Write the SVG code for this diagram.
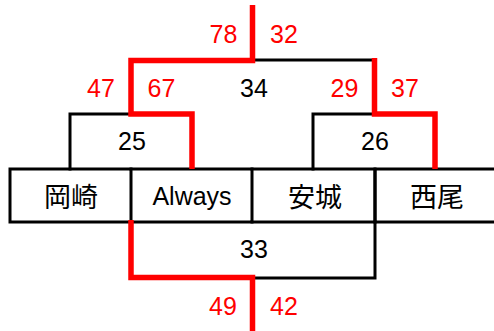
<svg xmlns="http://www.w3.org/2000/svg" width="494" height="331" viewBox="0 0 494 331">
<style>
.b{fill:none;stroke:#000;stroke-width:3;stroke-linecap:square}
.r{fill:none;stroke:#f00;stroke-width:5.5;stroke-linejoin:miter;stroke-linecap:butt}
text{font-family:"Liberation Sans","Noto Sans CJK JP",sans-serif;font-size:25px;text-anchor:middle}
.k{fill:#000}
.n{fill:#f00}
.j{font-family:"Noto Sans CJK JP",sans-serif;font-size:27px}
</style>
<rect width="494" height="331" fill="#fff"/>
<g id="box34"><path class="b" d="M252,60 H374"/><text class="k" x="254" y="97">34</text></g>
<g id="box25"><path class="b" d="M70,169 V114 H131"/><text class="k" x="132" y="150">25</text></g>
<g id="box26"><path class="b" d="M313,169 V114 H374"/><text class="k" x="375" y="150">26</text></g>
<g id="box33"><path class="b" d="M252,278 H375 V222"/><text class="k" x="254" y="258">33</text></g>
<g id="okazaki"><path class="b" d="M10,169 H131 V222 H10 Z"/><text class="k j" x="71" y="207">岡崎</text></g>
<g id="always"><path class="b" d="M131,169 H252 V222 H131"/><text class="k" x="192" y="205">Always</text></g>
<g id="anjo"><path class="b" d="M252,169 H375 V222 H252"/><text class="k j" x="315" y="207">安城</text></g>
<g id="nishio"><path class="b" d="M375,169 H500 M375,222 H500 M375,169 V222"/><text class="k j" x="437" y="207">西尾</text></g>
<g id="connectors">
<path class="r" d="M252.5,5 V60.5 H131 V114 H192 V169"/>
<path class="r" d="M374.5,58 V114 H435 V169"/>
<path class="r" d="M131,220 V277.5 H252.5 V331"/>
</g>
<g id="labels">
<text class="n" x="223.5" y="43">78</text>
<text class="n" x="284" y="43">32</text>
<text class="n" x="101" y="97">47</text>
<text class="n" x="161.5" y="97">67</text>
<text class="n" x="344.5" y="97">29</text>
<text class="n" x="405" y="97">37</text>
<text class="n" x="223" y="315">49</text>
<text class="n" x="284" y="315">42</text>
</g>
</svg>
